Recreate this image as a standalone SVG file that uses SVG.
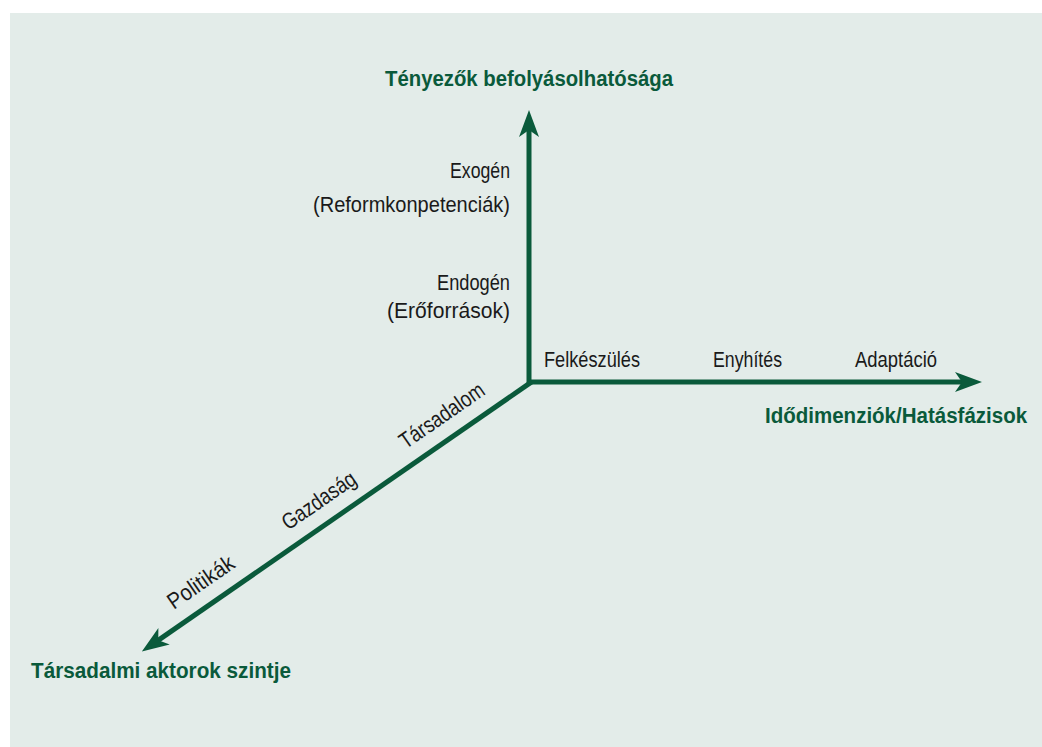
<svg xmlns="http://www.w3.org/2000/svg" width="1042" height="747" viewBox="0 0 1042 747">
<style>
.lbl{font-family:"Liberation Sans",Arial,sans-serif;font-size:22.5px;fill:#1a1a1a}
.ttl{font-family:"Liberation Sans",Arial,sans-serif;font-size:22.5px;font-weight:bold;fill:#0a5a3b}
.axis{stroke:#0a5a3b;stroke-width:5;fill:none}
.head{fill:#0a5a3b}
</style>
<rect x="0" y="0" width="1042" height="747" fill="#ffffff"/>
<rect x="10" y="13" width="1032" height="734" fill="#e3ece9"/>
<g id="connectors">
<path class="axis" d="M529,384 L529,128"/>
<polygon class="head" points="529,110 539,137 529,130 519,137"/>
<path class="axis" d="M527,382 L963,382"/>
<polygon class="head" points="982,382 955,372 962,382 955,392"/>
<g transform="translate(530,383) rotate(-34.68)">
<path class="axis" d="M2,0 L-454,0"/>
<polygon class="head" points="-472,0 -445,-10 -452,0 -445,10"/>
</g>
</g>
<g id="axis-vertical-title"><text class="ttl" x="385" y="86" textLength="288" lengthAdjust="spacingAndGlyphs">Tényezők befolyásolhatósága</text></g>
<g id="axis-horizontal-title" transform="translate(765,423) scale(0.91,1)"><text class="ttl" x="0" y="0" textLength="288" lengthAdjust="spacingAndGlyphs">Idődimenziók/Hatásfázisok</text></g>
<g id="axis-diagonal-title"><text class="ttl" x="31" y="678" textLength="260" lengthAdjust="spacingAndGlyphs">Társadalmi aktorok szintje</text></g>
<g id="exogen">
<text class="lbl" x="450" y="178" textLength="60" lengthAdjust="spacingAndGlyphs">Exogén</text>
<text class="lbl" x="313" y="212" textLength="197" lengthAdjust="spacingAndGlyphs">(Reformkonpetenciák)</text>
</g>
<g id="endogen">
<text class="lbl" x="437" y="290" textLength="73" lengthAdjust="spacingAndGlyphs">Endogén</text>
<text class="lbl" x="387" y="318" textLength="123" lengthAdjust="spacingAndGlyphs">(Erőforrások)</text>
</g>
<g id="felkeszules"><text class="lbl" x="544" y="367" textLength="96" lengthAdjust="spacingAndGlyphs">Felkészülés</text></g>
<g id="enyhites"><text class="lbl" x="713" y="367" textLength="69" lengthAdjust="spacingAndGlyphs">Enyhítés</text></g>
<g id="adaptacio"><text class="lbl" x="855" y="367" textLength="82" lengthAdjust="spacingAndGlyphs">Adaptáció</text></g>
<g transform="translate(530,383) rotate(-34.68)">
<g id="tarsadalom"><text class="lbl" x="-140" y="-16" textLength="98" lengthAdjust="spacingAndGlyphs">Társadalom</text></g>
<g id="gazdasag"><text class="lbl" x="-283" y="-16" textLength="85" lengthAdjust="spacingAndGlyphs">Gazdaság</text></g>
<g id="politikak"><text class="lbl" x="-422" y="-16" textLength="76" lengthAdjust="spacingAndGlyphs">Politikák</text></g>
</g>
</svg>
